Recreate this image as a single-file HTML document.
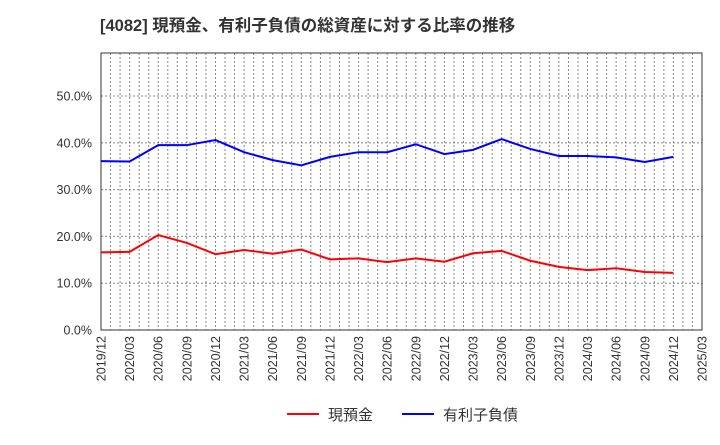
<!DOCTYPE html>
<html><head><meta charset="utf-8">
<style>
body{margin:0;background:#fff;width:720px;height:440px;overflow:hidden;font-family:"Liberation Sans","Noto Sans CJK JP",sans-serif;}
</style></head>
<body>
<svg id="chart" width="720" height="440" xmlns="http://www.w3.org/2000/svg" font-family="Liberation Sans, Noto Sans CJK JP, sans-serif">
<text x="100" y="31" font-size="16.5" font-weight="bold" fill="#333">[4082]  現預金、有利子負債の総資産に対する比率の推移</text>
<g id="grid"></g>
<g id="axes"></g>
<g id="series"></g>
<g>
<line x1="287" y1="414" x2="319" y2="414" stroke="#ff0000" stroke-width="2"/>
<text x="328" y="420" font-size="15" fill="#333">現預金</text>
<line x1="402" y1="414" x2="434" y2="414" stroke="#0000ff" stroke-width="2"/>
<text x="443" y="420" font-size="15" fill="#333">有利子負債</text>
</g>
</svg>
<script>
const categories=["2019/12","2020/03","2020/06","2020/09","2020/12","2021/03","2021/06","2021/09","2021/12","2022/03","2022/06","2022/09","2022/12","2023/03","2023/06","2023/09","2023/12","2024/03","2024/06","2024/09","2024/12","2025/03"];
const cashValues=[16.6,16.7,20.3,18.6,16.2,17.1,16.3,17.2,15.1,15.3,14.5,15.3,14.6,16.4,16.9,14.8,13.5,12.8,13.2,12.4,12.2];
const debtValues=[36.1,36.0,39.5,39.5,40.6,38.0,36.3,35.2,37.0,38.0,38.0,39.7,37.6,38.5,40.8,38.7,37.2,37.2,36.9,35.9,37.0];
const yTicks=[0,10,20,30,40,50];
const yTickLabels=["0.0%","10.0%","20.0%","30.0%","40.0%","50.0%"];
const X0=101,X1=702,Y0=330,Y1=53,YMAX=59.2;
const NS="http://www.w3.org/2000/svg";
const xs=i=>X0+(X1-X0)*i/(categories.length-1);
const ys=v=>Y0-(Y0-Y1)*v/YMAX;
function mk(tag,attrs,parent){const e=document.createElementNS(NS,tag);for(const k in attrs)e.setAttribute(k,attrs[k]);document.getElementById(parent).appendChild(e);return e;}
const months=(categories.length-1)*3;
for(let m=1;m<months;m++){const x=X0+(X1-X0)*m/months;
const l=mk("line",{x1:x,y1:Y1,x2:x,y2:Y0,stroke:"#888","stroke-dasharray":"2,2","stroke-width":1},"grid");

}
yTicks.forEach((t,i)=>{const y=ys(t);
if(t>0){const g=mk("line",{x1:X0,y1:y,x2:X1,y2:y,stroke:"#888","stroke-dasharray":"2,2"},"grid");

}
const tx=mk("text",{x:92,y:y+4.5,"text-anchor":"end","font-size":12.5,fill:"#333"},"axes");tx.textContent=yTickLabels[i];

});
const fr=mk("rect",{x:X0,y:Y1,width:X1-X0,height:Y0-Y1,fill:"none",stroke:"#333","stroke-width":1},"axes");


categories.forEach((c,i)=>{const x=xs(i);
const t=mk("text",{x:x+4.5,y:336,"text-anchor":"end","font-size":12.5,fill:"#333",transform:`rotate(-90 ${x+4.5} 336)`},"axes");t.textContent=c;

});
function line(vals,color,name){const p=vals.map((v,i)=>`${xs(i)},${ys(v)}`).join(" ");
const e=mk("polyline",{points:p,fill:"none",stroke:color,"stroke-width":2},"series");

}
line(cashValues,"#ff0000","cash-line");
line(debtValues,"#0000ff","debt-line");
</script>
</body></html>
